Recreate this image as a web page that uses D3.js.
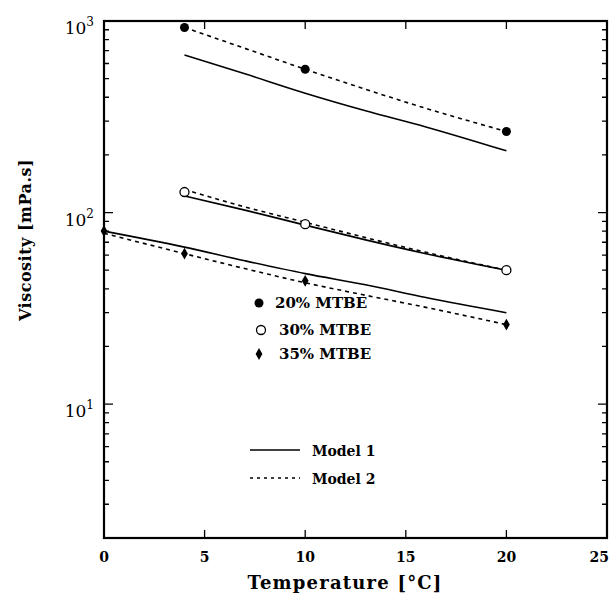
<!DOCTYPE html>
<html>
  <head>
    <meta charset="utf-8"/>
    <script src="https://cdn.jsdelivr.net/npm/d3@7"></script>
    <style type="text/css">

html, body {
  margin: 0;
  padding: 0;
  background: #fff;
}

svg text {
  font-family: "DejaVu Serif", "Liberation Serif", serif;
  fill: #000;
}

.bold {
  font-weight: bold;
}

    </style>
  </head>
  <body>
    <svg id="chart" width="610" height="599"></svg>
    <script type="text/javascript">

// measured points (temperature in °C, viscosity in mPa.s)
var temps20 = [4, 10, 20],
    visc20 = [925, 560, 265];
var temps30 = [4, 10, 20],
    visc30 = [128, 87, 50];
var temps35 = [0, 4, 10, 20],
    visc35 = [80, 61, 44, 26];

var model1Temps20 = [4, 7, 10, 13, 16, 20],
    model1Visc20 = [665, 530, 420, 340, 280, 210];
var model1Temps30 = [4, 7, 10, 13, 16, 20],
    model1Visc30 = [122, 103, 86, 72, 61, 50];
var model1Temps35 = [0, 4, 7, 10, 13, 16, 20],
    model1Visc35 = [80, 66, 56, 48, 42, 36, 30];

var model2Temps20 = [4, 7, 10, 13, 16, 20],
    model2Visc20 = [925, 720, 560, 440, 350, 265];
var model2Temps30 = [4, 7, 10, 13, 16, 20],
    model2Visc30 = [132, 107, 89, 74, 62, 50];
var model2Temps35 = [0, 4, 7, 10, 13, 16, 20],
    model2Visc35 = [78, 61, 51, 43, 37, 32, 26];

var xTicks = [0, 5, 10, 15, 20, 25];
var yMajor = [10, 100, 1000];
var legendMarks = ["20% MTBE", "30% MTBE", "35% MTBE"];
var legendLines = ["Model 1", "Model 2"];

var svg = d3.select("#chart");
var mLeft = 104, mRight = 607, mTop = 21, mBottom = 538;

var x = d3.scaleLinear().domain([0, 25]).range([mLeft, mRight]);
var y = d3.scaleLog().domain([2, 1000]).range([mBottom, mTop]);

function zip(a, b) {
  return a.map(function(d, i) { return [d, b[i]]; });
}

// minor ticks for log axis
var yMinor = [];
[1, 10, 100].forEach(function(dec) {
  for (var k = 2; k <= 9; k++) {
    var v = dec * k;
    if (v >= 2 && v < 1000) yMinor.push(v);
  }
});

var axes = svg.append("g").attr("stroke", "#000").attr("fill", "none");

// frame
axes.append("rect")
    .attr("x", mLeft).attr("y", mTop)
    .attr("width", mRight - mLeft).attr("height", mBottom - mTop)
    .attr("stroke-width", 2.2);

// x ticks (inside, bottom and top)
axes.selectAll(".xt").data(xTicks.slice(1, -1)).enter().append("path")
    .attr("stroke-width", 1.3)
    .attr("d", function(d) {
      return "M" + x(d) + "," + mBottom + "v-8M" + x(d) + "," + mTop + "v8";
    });

// y major ticks
axes.selectAll(".ymaj").data(yMajor).enter().append("path")
    .attr("stroke-width", 1.3)
    .attr("d", function(d) {
      return "M" + mLeft + "," + y(d) + "h9M" + mRight + "," + y(d) + "h-9";
    });

// y minor ticks
axes.selectAll(".ymin").data(yMinor).enter().append("path")
    .attr("stroke-width", 1.3)
    .attr("d", function(d) {
      return "M" + mLeft + "," + y(d) + "h5M" + mRight + "," + y(d) + "h-5";
    });

// x tick labels
svg.selectAll(".xl").data(xTicks).enter().append("text")
    .attr("class", "bold")
    .attr("x", function(d) { return x(d); })
    .attr("y", 562)
    .attr("text-anchor", function(d, i) { return i === xTicks.length - 1 ? "end" : "middle"; })
    .attr("dx", function(d, i) { return i === xTicks.length - 1 ? 2 : 0; })
    .attr("font-size", 14)
    .text(function(d) { return d; });

// y tick labels 10^n
var yl = svg.selectAll(".yl").data(yMajor).enter().append("text")
    .attr("x", 94)
    .attr("y", function(d) { return y(d) + 13; })
    .attr("text-anchor", "end")
    .attr("font-size", 17);
yl.append("tspan").text("10");
yl.append("tspan")
    .attr("dy", -8)
    .attr("font-size", 12)
    .text(function(d) { return Math.round(Math.log10(d)); });

// axis titles
svg.append("text")
    .attr("class", "bold")
    .attr("x", 345)
    .attr("y", 589)
    .attr("text-anchor", "middle")
    .attr("font-size", 18)
    .attr("letter-spacing", 1.2)
    .text("Temperature [°C]");

svg.append("text")
    .attr("class", "bold")
    .attr("transform", "translate(31,240) rotate(-90)")
    .attr("text-anchor", "middle")
    .attr("font-size", 16)
    .attr("letter-spacing", 0.5)
    .text("Viscosity [mPa.s]");

// curves
var line = d3.line()
    .x(function(d) { return x(d[0]); })
    .y(function(d) { return y(d[1]); })
    .curve(d3.curveMonotoneX);

var solid = [zip(model1Temps20, model1Visc20), zip(model1Temps30, model1Visc30), zip(model1Temps35, model1Visc35)];
var dashed = [zip(model2Temps20, model2Visc20), zip(model2Temps30, model2Visc30), zip(model2Temps35, model2Visc35)];

svg.selectAll(".m1").data(solid).enter().append("path")
    .attr("d", line)
    .attr("fill", "none")
    .attr("stroke", "#000")
    .attr("stroke-width", 1.6);

svg.selectAll(".m2").data(dashed).enter().append("path")
    .attr("d", line)
    .attr("fill", "none")
    .attr("stroke", "#000")
    .attr("stroke-width", 1.6)
    .attr("stroke-dasharray", "4,4");

// points
svg.selectAll(".p20").data(zip(temps20, visc20)).enter().append("circle")
    .attr("cx", function(d) { return x(d[0]); })
    .attr("cy", function(d) { return y(d[1]); })
    .attr("r", 4.5)
    .attr("fill", "#000");

svg.selectAll(".p30").data(zip(temps30, visc30)).enter().append("circle")
    .attr("cx", function(d) { return x(d[0]); })
    .attr("cy", function(d) { return y(d[1]); })
    .attr("r", 4.5)
    .attr("fill", "#fff")
    .attr("stroke", "#000")
    .attr("stroke-width", 1.3);

var diamond = d3.symbol().type(d3.symbolDiamond).size(40);
svg.selectAll(".p35").data(zip(temps35, visc35)).enter().append("path")
    .attr("transform", function(d) { return "translate(" + x(d[0]) + "," + y(d[1]) + ")"; })
    .attr("d", diamond)
    .attr("fill", "#000");

// legend: markers
var lg = svg.append("g").attr("transform", "translate(259,303)");
var rowY = [0, 27, 51];
lg.append("circle").attr("cx", 0).attr("cy", rowY[0]).attr("r", 4.5).attr("fill", "#000");
lg.append("circle").attr("cx", 2).attr("cy", rowY[1]).attr("r", 4.5)
    .attr("fill", "#fff").attr("stroke", "#000").attr("stroke-width", 1.3);
lg.append("path").attr("transform", "translate(0," + rowY[2] + ")").attr("d", diamond).attr("fill", "#000");
lg.selectAll(".lt").data(legendMarks).enter().append("text")
    .attr("class", "bold")
    .attr("x", function(d, i) { return i === 0 ? 16 : 20; })
    .attr("y", function(d, i) { return rowY[i] + 5; })
    .attr("font-size", 15)
    .text(function(d) { return d; });

// legend: lines
var ll = svg.append("g").attr("transform", "translate(250,450)");
ll.selectAll(".ln").data(legendLines).enter().append("path")
    .attr("d", function(d, i) { return "M0," + (i * 28) + "h50"; })
    .attr("stroke", "#000")
    .attr("stroke-width", 1.6)
    .attr("stroke-dasharray", function(d, i) { return i ? "3,4" : null; });
ll.selectAll(".lnt").data(legendLines).enter().append("text")
    .attr("class", "bold")
    .attr("x", 62)
    .attr("y", function(d, i) { return i * 28 + 6; })
    .attr("font-size", 14)
    .text(function(d) { return d; });

    </script>
  </body>
</html>
